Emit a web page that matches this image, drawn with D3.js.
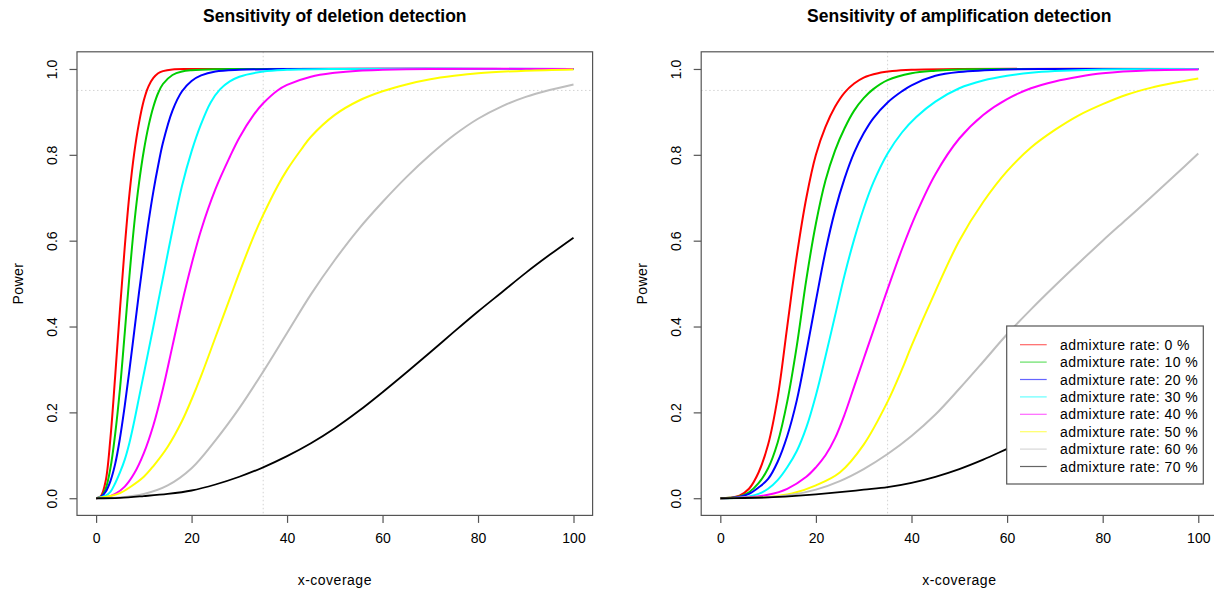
<!DOCTYPE html>
<html>
<head>
<meta charset="utf-8">
<script src="https://cdn.jsdelivr.net/npm/d3@7"></script>
<style>
  html, body { margin: 0; padding: 0; background: #fff; }
  svg { display: block; }
  text { font-family: "Liberation Sans", Arial, Helvetica, sans-serif; fill: #000; }
</style>
</head>
<body>
<svg id="chart" width="1214" height="589"></svg>
<script>
// Admixture rates shown in both panels, with the line colour for each
const admixtureRates = [0, 10, 20, 30, 40, 50, 60, 70];
const lineColors = ["#FF0000", "#00CD00", "#0000FF", "#00FFFF", "#FF00FF", "#FFFF00", "#BEBEBE", "#000000"];

const xTicks = [0, 20, 40, 60, 80, 100];
const yTicks = [0, 0.2, 0.4, 0.6, 0.8, 1.0];
const refPower = 0.95;
const refCoverage = 35;

// Deletion detection power, [coverage, power]
const del0  = [[0,0],[1,0.005],[2,0.04],[3,0.14],[4,0.285],[5,0.44],[6,0.585],[7,0.71],[8,0.805],[9,0.875],[10,0.927],[11,0.96],[12,0.979],[13,0.99],[14,0.995],[16,0.999],[20,1],[100,1]];
const del10 = [[0,0],[1,0.003],[2,0.022],[3,0.07],[4,0.15],[5,0.255],[6,0.385],[7,0.52],[8,0.64],[9,0.735],[10,0.81],[11,0.868],[12,0.912],[13,0.944],[14,0.965],[16,0.986],[18,0.994],[20,0.997],[25,0.9995],[30,1],[100,1]];
const del20 = [[0,0],[1,0.003],[2,0.015],[3,0.04],[4,0.08],[5,0.14],[6,0.215],[7,0.3],[8,0.39],[9,0.48],[10,0.565],[11,0.645],[12,0.715],[13,0.775],[14,0.828],[16,0.903],[18,0.948],[20,0.972],[22,0.985],[25,0.994],[30,0.998],[40,1],[100,1]];
const del30 = [[0,0],[2,0.006],[3,0.015],[4,0.035],[5,0.06],[6,0.09],[7,0.13],[8,0.18],[9,0.235],[10,0.29],[11,0.345],[12,0.4],[13,0.457],[14,0.513],[16,0.625],[18,0.728],[20,0.808],[22,0.872],[24,0.922],[26,0.953],[28,0.971],[30,0.982],[35,0.994],[40,0.998],[50,1],[100,1]];
const del40 = [[0,0],[2,0.002],[4,0.01],[6,0.027],[8,0.058],[10,0.105],[12,0.17],[14,0.255],[16,0.355],[18,0.455],[20,0.545],[22,0.625],[25,0.72],[28,0.795],[30,0.84],[33,0.893],[35,0.92],[38,0.95],[40,0.963],[45,0.982],[50,0.991],[55,0.996],[60,0.998],[70,1],[100,1]];
const del50 = [[0,0],[3,0.005],[5,0.012],[7,0.025],[10,0.05],[12,0.075],[15,0.12],[18,0.18],[20,0.23],[22,0.285],[25,0.375],[28,0.465],[30,0.525],[33,0.61],[35,0.66],[38,0.727],[40,0.765],[43,0.813],[45,0.842],[50,0.893],[55,0.926],[60,0.948],[65,0.964],[70,0.976],[75,0.984],[80,0.99],[90,0.996],[100,0.999]];
const del60 = [[0,0],[5,0.002],[10,0.01],[15,0.03],[20,0.07],[25,0.135],[30,0.21],[35,0.295],[40,0.385],[45,0.475],[50,0.555],[55,0.627],[60,0.69],[65,0.748],[70,0.8],[75,0.846],[80,0.884],[85,0.913],[90,0.935],[95,0.951],[100,0.964]];
const del70 = [[0,0],[5,0.001],[10,0.005],[15,0.01],[20,0.018],[25,0.032],[30,0.05],[35,0.072],[40,0.098],[45,0.128],[50,0.163],[55,0.203],[60,0.247],[65,0.293],[70,0.34],[75,0.388],[80,0.435],[85,0.48],[90,0.525],[95,0.567],[100,0.607]];

// Amplification detection power, [coverage, power]
const amp0  = [[0,0],[2,0.001],[4,0.006],[6,0.022],[8,0.06],[10,0.125],[12,0.235],[14,0.4],[16,0.565],[18,0.7],[20,0.8],[22,0.865],[24,0.912],[26,0.945],[28,0.966],[30,0.98],[33,0.99],[36,0.995],[40,0.998],[50,1],[100,1]];
const amp10 = [[0,0],[2,0.001],[4,0.004],[6,0.014],[8,0.035],[10,0.07],[12,0.13],[14,0.225],[16,0.355],[18,0.51],[20,0.64],[22,0.74],[24,0.81],[26,0.862],[28,0.903],[30,0.932],[32,0.953],[35,0.974],[40,0.99],[45,0.996],[50,0.999],[60,1],[100,1]];
const amp20 = [[0,0],[2,0.0005],[4,0.003],[6,0.01],[8,0.025],[10,0.045],[12,0.085],[14,0.145],[16,0.228],[18,0.34],[20,0.46],[22,0.575],[24,0.67],[26,0.745],[28,0.805],[30,0.85],[32,0.885],[35,0.922],[38,0.948],[40,0.962],[45,0.984],[50,0.993],[60,0.999],[70,1],[100,1]];
const amp30 = [[0,0],[4,0.001],[6,0.004],[8,0.01],[10,0.022],[12,0.042],[14,0.072],[16,0.11],[18,0.165],[20,0.24],[22,0.33],[24,0.425],[26,0.52],[28,0.603],[30,0.675],[32,0.735],[35,0.803],[38,0.852],[41,0.888],[45,0.924],[50,0.955],[55,0.973],[60,0.984],[65,0.991],[70,0.995],[80,0.999],[100,1]];
const amp40 = [[0,0],[6,0.002],[10,0.008],[14,0.022],[18,0.05],[20,0.072],[22,0.1],[24,0.14],[26,0.195],[28,0.26],[30,0.325],[32,0.39],[35,0.487],[38,0.58],[41,0.663],[45,0.755],[50,0.838],[55,0.893],[60,0.93],[65,0.955],[70,0.971],[75,0.982],[80,0.99],[90,0.997],[100,0.999]];
const amp50 = [[0,0],[5,0.001],[10,0.003],[15,0.011],[20,0.03],[25,0.06],[30,0.125],[35,0.225],[38,0.3],[40,0.355],[45,0.482],[50,0.6],[55,0.69],[60,0.762],[65,0.817],[70,0.858],[75,0.892],[80,0.918],[85,0.94],[90,0.956],[95,0.968],[100,0.978]];
const amp60 = [[0,0],[5,0.0005],[10,0.002],[15,0.008],[20,0.02],[25,0.04],[30,0.068],[35,0.103],[40,0.145],[45,0.195],[50,0.255],[55,0.318],[60,0.382],[65,0.44],[70,0.495],[75,0.548],[80,0.6],[85,0.65],[90,0.7],[95,0.751],[100,0.803]];
const amp70 = [[0,0],[5,0.0005],[10,0.002],[15,0.005],[20,0.009],[25,0.014],[30,0.02],[35,0.026],[40,0.036],[45,0.05],[50,0.068],[55,0.09],[60,0.115],[65,0.14],[70,0.168],[75,0.198],[80,0.23],[85,0.265],[90,0.3],[95,0.335],[100,0.37]];

const deletionSeries = [del0, del10, del20, del30, del40, del50, del60, del70];
const amplificationSeries = [amp0, amp10, amp20, amp30, amp40, amp50, amp60, amp70];

const svg = d3.select("#chart");
const FONT = 14;

const panels = [
  { title: "Sensitivity of deletion detection", series: deletionSeries, left: 77, right: 592.6, legend: false },
  { title: "Sensitivity of amplification detection", series: amplificationSeries, left: 701.2, right: 1217.4, legend: true }
];
const plotTop = 51.8, plotBottom = 515.4;

panels.forEach(p => {
  const g = svg.append("g");
  const x = d3.scaleLinear().domain([-4, 104]).range([p.left, p.right]);
  const y = d3.scaleLinear().domain([-0.04, 1.04]).range([plotBottom, plotTop]);

  // reference lines
  g.append("line")
    .attr("x1", p.left).attr("x2", p.right)
    .attr("y1", y(refPower)).attr("y2", y(refPower))
    .attr("stroke", "#d3d3d3").attr("stroke-width", 1).attr("stroke-dasharray", "1.5,2.5");
  g.append("line")
    .attr("x1", x(refCoverage)).attr("x2", x(refCoverage))
    .attr("y1", plotTop).attr("y2", plotBottom)
    .attr("stroke", "#d3d3d3").attr("stroke-width", 1).attr("stroke-dasharray", "1.5,2.5");

  const line = d3.line()
    .x(d => x(d[0]))
    .y(d => y(d[1]))
    .curve(d3.curveCatmullRom.alpha(0.5));

  p.series.forEach((s, i) => {
    g.append("path")
      .datum(s)
      .attr("d", line)
      .attr("fill", "none")
      .attr("stroke", lineColors[i])
      .attr("stroke-width", i === 7 ? 1.8 : 2)
      .attr("stroke-linejoin", "round");
  });

  // axes
  const xAxis = d3.axisBottom(x).tickValues(xTicks).tickSize(7.5).tickPadding(10).tickFormat(d3.format("d"));
  const gx = g.append("g").attr("transform", `translate(0,${plotBottom})`).call(xAxis);
  gx.select(".domain").remove();
  gx.selectAll(".tick line").attr("stroke", "#555").attr("stroke-width", 1.2);
  gx.selectAll(".tick text").attr("font-size", FONT).attr("fill", "#000")
    .attr("font-family", "Liberation Sans, Arial, sans-serif");

  const yAxis = d3.axisLeft(y).tickValues(yTicks).tickSize(7.5).tickFormat(d3.format(".1f"));
  const gy = g.append("g").attr("transform", `translate(${p.left},0)`).call(yAxis);
  gy.select(".domain").remove();
  gy.selectAll(".tick line").attr("stroke", "#555").attr("stroke-width", 1.2);
  gy.selectAll(".tick text")
    .attr("font-size", FONT).attr("fill", "#000")
    .attr("font-family", "Liberation Sans, Arial, sans-serif")
    .attr("x", null).attr("dy", null)
    .attr("text-anchor", "middle")
    .attr("transform", "translate(-20,0) rotate(-90)");

  // frame
  g.append("rect")
    .attr("x", p.left).attr("y", plotTop)
    .attr("width", p.right - p.left).attr("height", plotBottom - plotTop)
    .attr("fill", "none").attr("stroke", "#555").attr("stroke-width", 1.2);

  // titles
  const cx = (p.left + p.right) / 2;
  g.append("text").attr("x", cx).attr("y", 22)
    .attr("text-anchor", "middle").attr("font-weight", "bold").attr("font-size", 17.5)
    .text(p.title);
  g.append("text").attr("x", cx).attr("y", 585)
    .attr("text-anchor", "middle").attr("font-size", FONT).attr("letter-spacing", 0.5)
    .text("x-coverage");
  g.append("text")
    .attr("transform", `translate(${p.left - 54},${(plotTop + plotBottom) / 2}) rotate(-90)`)
    .attr("text-anchor", "middle").attr("font-size", FONT).attr("letter-spacing", 0.4)
    .text("Power");

  if (p.legend) {
    const lg = g.append("g");
    const bx = 1006.7, by = 326, bw = 196.6, bh = 158;
    lg.append("rect").attr("x", bx).attr("y", by).attr("width", bw).attr("height", bh)
      .attr("fill", "#fff").attr("stroke", "#555").attr("stroke-width", 1.2);
    admixtureRates.forEach((r, i) => {
      const yy = 344.7 + i * 17.4;
      lg.append("line").attr("x1", 1020).attr("x2", 1046.7).attr("y1", yy).attr("y2", yy)
        .attr("stroke", lineColors[i]).attr("stroke-width", 1.2).attr("opacity", 0.6);
      lg.append("text").attr("x", 1060).attr("y", yy + 5).attr("font-size", FONT)
        .attr("letter-spacing", 0.45)
        .text(`admixture rate: ${r} %`);
    });
  }
});
</script>
</body>
</html>
